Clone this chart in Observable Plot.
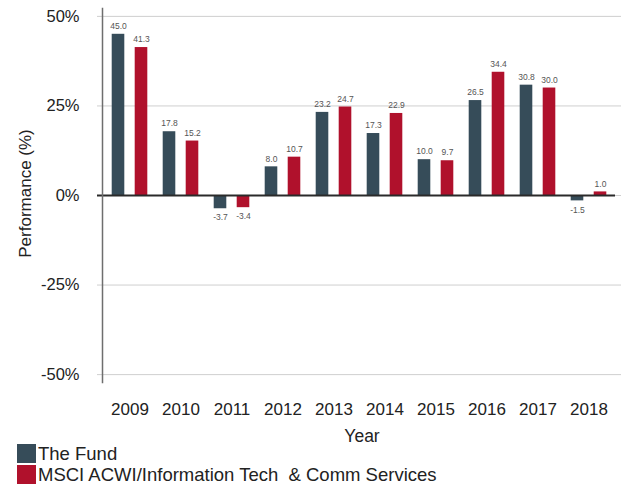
<!DOCTYPE html>
<html>
<head>
<meta charset="utf-8">
<script src="https://cdn.jsdelivr.net/npm/d3@7"></script>
<script src="https://cdn.jsdelivr.net/npm/@observablehq/plot@0.6"></script>
<style>
  body { margin: 0; background: #fff; font-family: "Liberation Sans", Arial, sans-serif; }
  #chart svg { display: block; }
  .legend { position: relative; margin-left: 17px; margin-top: -9px; }
  .row { display: flex; align-items: center; height: 21px; font-size: 18.5px; color: #222; white-space: pre; }
  .sw { width: 19px; height: 19px; margin-right: 2px; flex: none; }
</style>
</head>
<body>
<div id="chart"></div>
<script>
const years = ["2009","2010","2011","2012","2013","2014","2015","2016","2017","2018"];
const fundValues = [45.0, 17.8, -3.7, 8.0, 23.2, 17.3, 10.0, 26.5, 30.8, -1.5];
const msciValues = [41.3, 15.2, -3.4, 10.7, 24.7, 22.9, 9.7, 34.4, 30.0, 1.0];
const seriesNames = ["The Fund", "MSCI ACWI/Information Tech  & Comm Services"];
const seriesColors = ["#364c59", "#b0112c"];
const yTicks = [-50, -25, 0, 25, 50];

const fund = years.map((year, i) => ({year, value: fundValues[i]}));
const msci = years.map((year, i) => ({year, value: msciValues[i]}));

const font = '"Liberation Sans", Arial, sans-serif';
const labelFmt = d => d.value.toFixed(1);

const plot = Plot.plot({
  width: 621,
  height: 452,
  marginLeft: 102,
  marginRight: 0,
  marginTop: 8,
  marginBottom: 70,
  style: {fontFamily: font, color: "#222", background: "#fff"},
  x: {type: "band", domain: years, padding: 0, insetRight: 5},
  y: {domain: [-52.2, 52.2]},
  marks: [
    Plot.gridY(yTicks, {stroke: "#cfcfcf", strokeOpacity: 1}),
    Plot.axisY(yTicks, {tickSize: 5, tickPadding: 18, fontSize: 16.5, stroke: "#cfcfcf", tickFormat: d => d + "%", label: null}),
    Plot.axisX({tickSize: 0, tickPadding: 20, fontSize: 17, label: null}),
    Plot.barY(fund, {x: "year", y: "value", fill: seriesColors[0], insetLeft: 7.7, insetRight: 30.7}),
    Plot.barY(msci, {x: "year", y: "value", fill: seriesColors[1], insetLeft: 30.7, insetRight: 7.7}),
    Plot.ruleY([0], {stroke: "#2a2a2a", strokeWidth: 2, insetLeft: -5, insetRight: 6}),
    Plot.frame({anchor: "left", stroke: "#6e6e6e", strokeWidth: 1.5}),
    Plot.text(fund, {filter: d => d.value >= 0, x: "year", y: "value", text: labelFmt, dx: -11.5, dy: -8, fontSize: 8.5, fill: "#555"}),
    Plot.text(fund, {filter: d => d.value < 0, x: "year", y: "value", text: labelFmt, dx: -11.5, dy: 9, fontSize: 8.5, fill: "#555"}),
    Plot.text(msci, {filter: d => d.value >= 0, x: "year", y: "value", text: labelFmt, dx: 11.5, dy: -8, fontSize: 8.5, fill: "#555"}),
    Plot.text(msci, {filter: d => d.value < 0, x: "year", y: "value", text: labelFmt, dx: 11.5, dy: 9, fontSize: 8.5, fill: "#555"}),
    Plot.text(["Performance (%)"], {frameAnchor: "left", rotate: -90, textAnchor: "middle", dx: -77, dy: -2, fontSize: 17, fill: "#222"}),
    Plot.text(["Year"], {frameAnchor: "bottom", textAnchor: "middle", dx: 0, dy: 59, fontSize: 17.5, fill: "#222"})
  ]
});
document.getElementById("chart").appendChild(plot);

const legend = document.createElement("div");
legend.className = "legend";
seriesNames.forEach((name, i) => {
  const row = document.createElement("div");
  row.className = "row";
  const sw = document.createElement("span");
  sw.className = "sw";
  sw.style.background = seriesColors[i];
  const t = document.createElement("span");
  t.textContent = name;
  row.appendChild(sw);
  row.appendChild(t);
  legend.appendChild(row);
});
document.body.appendChild(legend);
</script>
</body>
</html>
